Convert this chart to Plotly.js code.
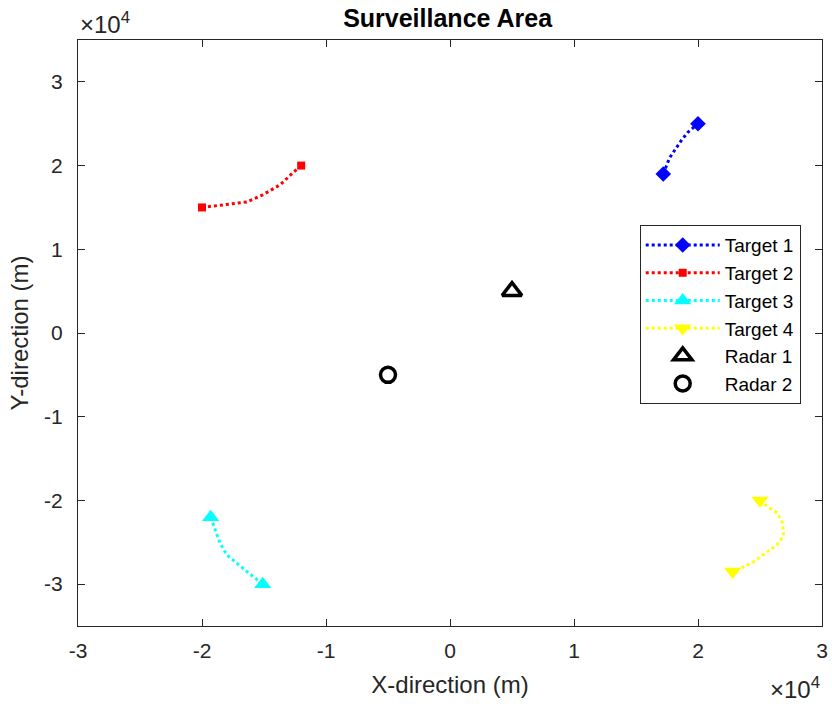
<!DOCTYPE html>
<html><head><meta charset="utf-8">
<script src="https://cdn.plot.ly/plotly-3.0.1.min.js"></script>
<style>body{margin:0;background:#fff}#chart{width:832px;height:704px}</style>
</head><body><div id="chart"></div>
<script>
// Trajectories (metres)
const t1x = [17200, 17700, 18150, 18700, 19200, 20000];
const t1y = [19000, 20900, 21900, 23100, 24000, 25000];
const t2x = [-20000, -17700, -16400, -15100, -13700, -12700, -12000];
const t2y = [15000, 15400, 15650, 16500, 17700, 19100, 20000];
const t3x = [-19300, -18950, -18550, -18000, -17200, -16300, -15100];
const t3y = [-22000, -23500, -25100, -26500, -27500, -28600, -30000];
const t4x = [25000, 25650, 26400, 26800, 26900, 26600, 26000, 25200, 24400, 23600, 22800];
const t4y = [-20000, -20800, -21500, -22700, -23900, -25000, -25700, -26500, -27400, -28000, -28500];
const r1x = [5000], r1y = [5000];
const r2x = [-5000], r2y = [-5000];
const names = ['Target 1', 'Target 2', 'Target 3', 'Target 4', 'Radar 1', 'Radar 2'];
const xTicks = [-30000, -20000, -10000, 0, 10000, 20000, 30000];
const xTickText = ['-3', '-2', '-1', '0', '1', '2', '3'];
const yTicks = [-30000, -20000, -10000, 0, 10000, 20000, 30000];
const yTickText = ['-3', '-2', '-1', '0', '1', '2', '3'];

const font = 'Liberation Sans, Arial, Helvetica, sans-serif';
const traces = [];
function target(xs, ys, name, color, symbol, size) {
  // path
  traces.push({x: xs, y: ys, mode: 'lines', line: {color: color, width: 3, dash: 'dot'},
    showlegend: false, hoverinfo: 'skip'});
  // endpoint markers
  traces.push({x: [xs[0], xs[xs.length - 1]], y: [ys[0], ys[ys.length - 1]], mode: 'markers',
    marker: {color: color, symbol: symbol, size: size}, showlegend: false});
  // legend entry
  traces.push({x: [null], y: [null], mode: 'lines+markers', name: name,
    line: {color: color, width: 3, dash: 'dot'}, marker: {color: color, symbol: symbol, size: size}});
}
target(t1x, t1y, names[0], '#0000ff', 'diamond', 12);
target(t2x, t2y, names[1], '#ff0000', 'square', 8);
target(t3x, t3y, names[2], '#00ffff', 'triangle-up', 15);
target(t4x, t4y, names[3], '#ffff00', 'triangle-down', 15);
traces.push({x: r1x, y: r1y, mode: 'markers', name: names[4],
  marker: {symbol: 'triangle-up-open', size: 17, color: '#000', line: {width: 3.5, color: '#000'}}});
traces.push({x: r2x, y: r2y, mode: 'markers', name: names[5],
  marker: {symbol: 'circle-open', size: 15, color: '#000', line: {width: 3.5, color: '#000'}}});

const axisCommon = {
  showgrid: false, zeroline: false, showline: true, mirror: 'ticks', linecolor: '#262626', linewidth: 1,
  ticks: 'inside', ticklen: 7, tickcolor: '#262626', tickfont: {family: font, size: 21, color: '#262626'}
};
const layout = {
  width: 832, height: 704,
  margin: {l: 78, r: 10, t: 40, b: 78},
  paper_bgcolor: '#fff', plot_bgcolor: '#fff',
  font: {family: font, color: '#262626'},
  title: {text: '<b>Surveillance Area</b>', font: {family: font, size: 25, color: '#000'}, x: 0.538, xanchor: 'center', y: 0.974, yanchor: 'middle'},
  xaxis: Object.assign({}, axisCommon, {range: [-30000, 30000], tickvals: xTicks, ticktext: xTickText, ticklabelstandoff: 6,
    title: {text: 'X-direction (m)', font: {family: font, size: 24, color: '#262626'}, standoff: 14}}),
  yaxis: Object.assign({}, axisCommon, {range: [-35000, 35000], tickvals: yTicks, ticktext: yTickText, ticklabelstandoff: 10,
    title: {text: 'Y-direction (m)', font: {family: font, size: 24, color: '#262626'}, standoff: 8}}),
  legend: {x: 0.755, y: 0.684, xanchor: 'left', yanchor: 'top', bgcolor: '#fff', bordercolor: '#262626', borderwidth: 1,
    font: {family: font, size: 19, color: '#000'}, itemwidth: 74, tracegroupgap: 0},
  annotations: [
    {xref: 'paper', yref: 'paper', x: 0, y: 1, xanchor: 'left', yanchor: 'middle', yshift: 17, showarrow: false,
      text: '×10<sup>4</sup>', font: {family: font, size: 24, color: '#262626'}},
    {xref: 'paper', yref: 'paper', x: 1, y: 0, xanchor: 'right', yanchor: 'middle', yshift: -62, showarrow: false,
      text: '×10<sup>4</sup>', font: {family: font, size: 24, color: '#262626'}}
  ],
  showlegend: true
};
Plotly.newPlot('chart', traces, layout, {displayModeBar: false, staticPlot: true});
</script></body></html>
